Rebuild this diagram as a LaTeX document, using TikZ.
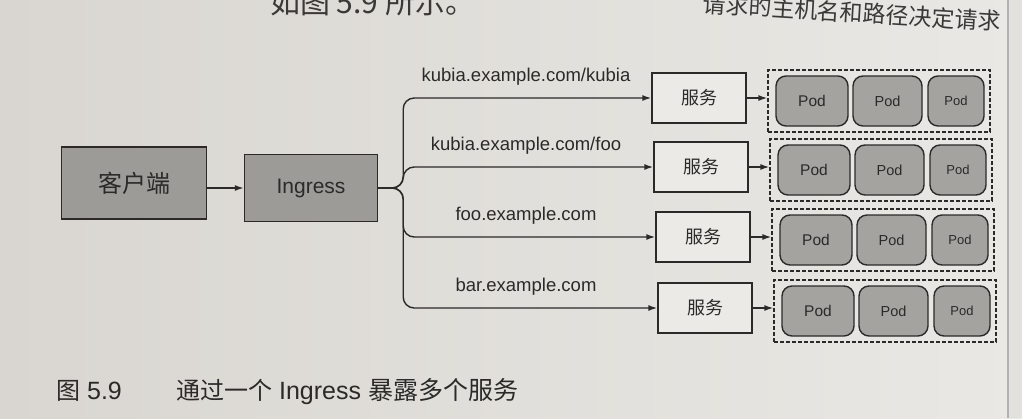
\documentclass[tikz,border=0pt]{standalone}
\usepackage{fontspec}
\setmainfont{Liberation Sans}
\newfontfamily\cjk{Noto Sans CJK SC}
\usetikzlibrary{arrows.meta}
\definecolor{paperL}{HTML}{D9D6D1}
\definecolor{paperR}{HTML}{E9E8E4}
\definecolor{boxgray}{HTML}{9D9B98}
\definecolor{podgray}{HTML}{A5A3A0}
\definecolor{svcfill}{HTML}{ECEAE6}
\definecolor{ink}{HTML}{2B2A29}
\definecolor{faint}{HTML}{3A3938}
\begin{document}
\begin{tikzpicture}[x=1pt,y=-1pt,
  graybox/.style={draw=ink, line width=1.4pt, fill=boxgray, inner sep=0pt, text=ink},
  svcbox/.style={draw=ink, line width=1.4pt, fill=svcfill, minimum width=94pt, minimum height=50pt, inner sep=0pt, text=ink, font=\cjk\fontsize{18}{18}\selectfont},
  podbox/.style={draw=ink, line width=1.4pt, fill=podgray, rounded corners=10pt, minimum height=50pt, inner sep=0pt, text=ink},
  grpbox/.style={draw=ink, line width=1.3pt, dash pattern=on 4pt off 2pt, minimum width=222pt, minimum height=62pt, inner sep=0pt},
  conn/.style={draw=ink, line width=1.4pt, -{Latex[length=9pt,width=6pt]}},
  lbl/.style={font=\fontsize{18.5}{18.5}\selectfont, text=ink, inner sep=0pt}
]
\useasboundingbox (0,0) rectangle (1022,418);
\shade[left color=paperL, right color=paperR] (0,0) rectangle (1022,418);
\fill[paperR!97!black] (1009,0) rectangle (1022,418);
\draw[line width=1.5pt, black!30] (1008,0) -- (1008,418);

% cropped running text at the top of the page
\node[anchor=base west, inner sep=0pt, text=faint, font=\cjk\fontsize{30}{30}\selectfont] (toptextL) at (270,13) {如图 5.9 所示。};
\node[anchor=base west, inner sep=0pt, text=faint, rotate=-3.5, font=\cjk\fontsize{23}{23}\selectfont] (toptextR) at (702,12) {请求的主机名和路径决定请求};

% client and ingress
\node[graybox, minimum width=145pt, minimum height=72pt, font=\cjk\fontsize{24}{24}\selectfont] (client) at (134,183) {客户端};
\node[graybox, minimum width=133pt, minimum height=67pt, font=\fontsize{21}{21}\selectfont] (ingress) at (311,188) {Ingress};
\draw[conn] (client.east |- ingress.west) -- (ingress.west);

% rows: service, route label, pod group
\foreach \i/\y/\dx/\lab in {1/98/0/{kubia.example.com/kubia},
                             2/167/2/{kubia.example.com/foo},
                             3/237/4/{foo.example.com},
                             4/308/6/{bar.example.com}} {
  \node[svcbox] (svc\i) at (699+\dx,\y) {服务};
  \draw[conn, rounded corners=11pt] (ingress.east) -- ++(25,0) |- (svc\i.west);
  \node[lbl] (lab\i) at (526,\y-21) {\lab};
  \node[grpbox] (grp\i) at (879+\dx,\y+3) {};
  \node[podbox, minimum width=72pt, font=\fontsize{15.5}{15.5}\selectfont] (pod\i a) at (812+\dx,\y+3) {Pod};
  \node[podbox, minimum width=69pt, font=\fontsize{14.5}{14.5}\selectfont] (pod\i b) at (887.5+\dx,\y+3) {Pod};
  \node[podbox, minimum width=56pt, font=\fontsize{13}{13}\selectfont] (pod\i c) at (956+\dx,\y+3) {Pod};
  \draw[conn] (svc\i.east) -- (svc\i.east -| grp\i.west);
}

% caption
\node[anchor=base west, inner sep=0pt, text=ink, font=\fontsize{25}{25}\selectfont] (caption1) at (56,399) {{\cjk\fontsize{24}{24}\selectfont 图} 5.9};
\node[anchor=base west, inner sep=0pt, text=ink, font=\fontsize{25}{25}\selectfont] (caption2) at (176,399) {{\cjk\fontsize{24}{24}\selectfont 通过一个} Ingress {\cjk\fontsize{25}{25}\selectfont 暴露多个服务}};
\end{tikzpicture}
\end{document}
